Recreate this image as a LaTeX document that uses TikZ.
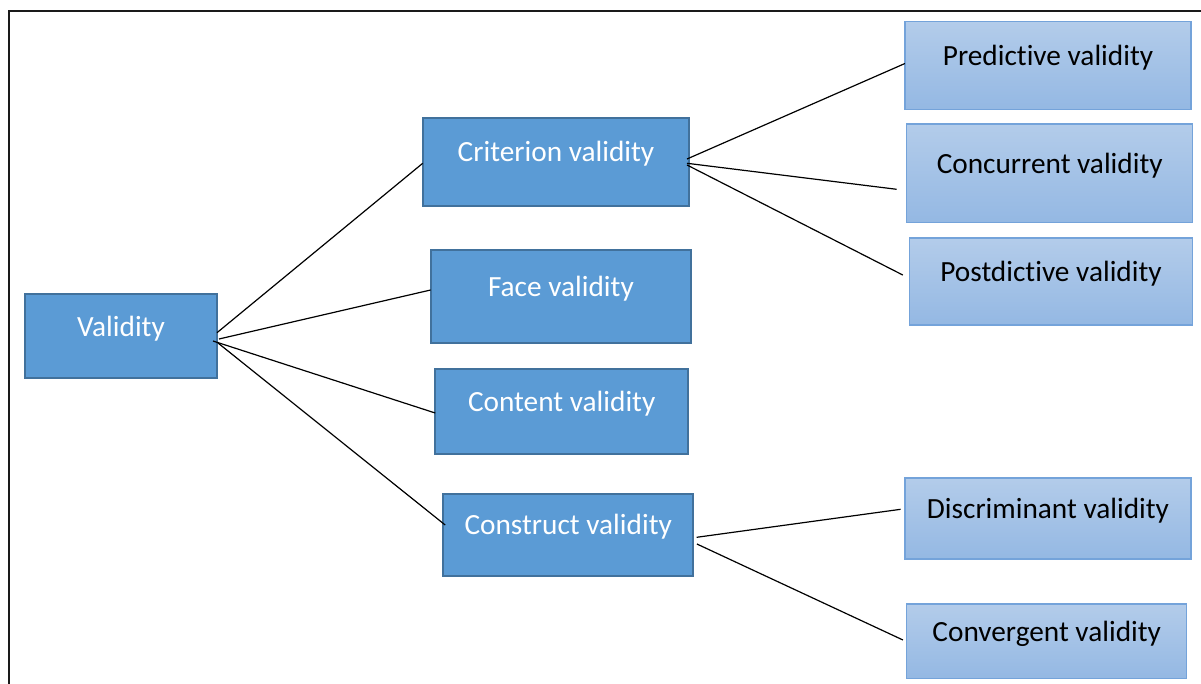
\documentclass[tikz,border=0pt]{standalone}
\usepackage{fontspec}
\setmainfont{Carlito}[Ligatures=NoCommon]
\definecolor{darkfill}{HTML}{5B9BD5}
\definecolor{darkedge}{HTML}{41719C}
\definecolor{lighttop}{HTML}{B3CCEA}
\definecolor{lightbot}{HTML}{94B8E3}
\definecolor{lightedge}{HTML}{74A3DA}
\definecolor{framecol}{HTML}{1A1A1A}
\tikzset{
  box/.style n args={2}{rectangle, minimum width=#1, minimum height=#2,
    inner xsep=0pt, inner ysep=0pt, text height=22pt, text depth=22pt,
    font=\fontsize{29.3}{34}\selectfont},
  mainbox/.style n args={2}{box={#1}{#2}, fill=darkfill, draw=darkedge,
    line width=2pt, text=white},
  subbox/.style n args={2}{box={#1}{#2}, top color=lighttop, bottom color=lightbot,
    draw=lightedge, line width=1.5pt, text=black},
  link/.style={draw=black, line width=1.2pt},
  frame/.style={draw=framecol, line width=2.4pt}
}
\begin{document}
\begin{tikzpicture}[x=1pt,y=-1pt]
\useasboundingbox (0,0) rectangle (1201,684);

% outer frame, open to the right and bottom
\draw[frame] (1201,11) -- (9,11) -- (9,684);

% root
\node[mainbox={192}{84}] (val) at (121,336.3) {Validity};

% first level
\node[mainbox={266}{88}] (crit) at (556,161.7) {Criterion validity};
\node[mainbox={260}{93}] (face) at (560.9,296.4) {Face validity};
\node[mainbox={253}{85}] (cont) at (561.7,411.7) {Content validity};
\node[mainbox={250}{82}] (cons) at (568.2,534.7) {Construct validity};

% second level
\node[subbox={286}{88}] (pred) at (1048,65.5) {Predictive validity};
\node[subbox={286}{98.5}] (conc) at (1049.7,173.3) {Concurrent validity};
\node[subbox={283}{87}] (post) at (1051,281.5) {Postdictive validity};
\node[subbox={286}{81}] (disc) at (1048,518.7) {Discriminant validity};
\node[subbox={280}{74.5}] (conv) at (1046.7,641.3) {Convergent validity};

% connectors from the root
\draw[link] ([shift={(-1,-3.6)}]val.east) -- ([shift={(0.7,1.6)}]crit.west);
\draw[link] ([shift={(1,2.7)}]val.east) -- ([shift={(0.7,-6.4)}]face.west);
\draw[link] ([shift={(-5,4.7)}]val.east) -- ([shift={(1,1.3)}]cont.west);
\draw[link] ([shift={(0,6.7)}]val.east) -- ([shift={(3,-9.7)}]cons.west);

% connectors from criterion validity
\draw[link] ([shift={(-3,-2.7)}]crit.east) -- ([shift={(0.7,-2)}]pred.west);
\draw[link] ([shift={(-3,1.6)}]crit.east) -- ([shift={(-9.3,16)}]conc.west);
\draw[link] ([shift={(-3,3.3)}]crit.east) -- ([shift={(-6,-6.5)}]post.west);

% connectors from construct validity
\draw[link] ([shift={(2.4,2.6)}]cons.east) -- ([shift={(-3.6,-9.4)}]disc.west);
\draw[link] ([shift={(2.7,9.3)}]cons.east) -- ([shift={(-3,-1.3)}]conv.west);
\end{tikzpicture}
\end{document}
